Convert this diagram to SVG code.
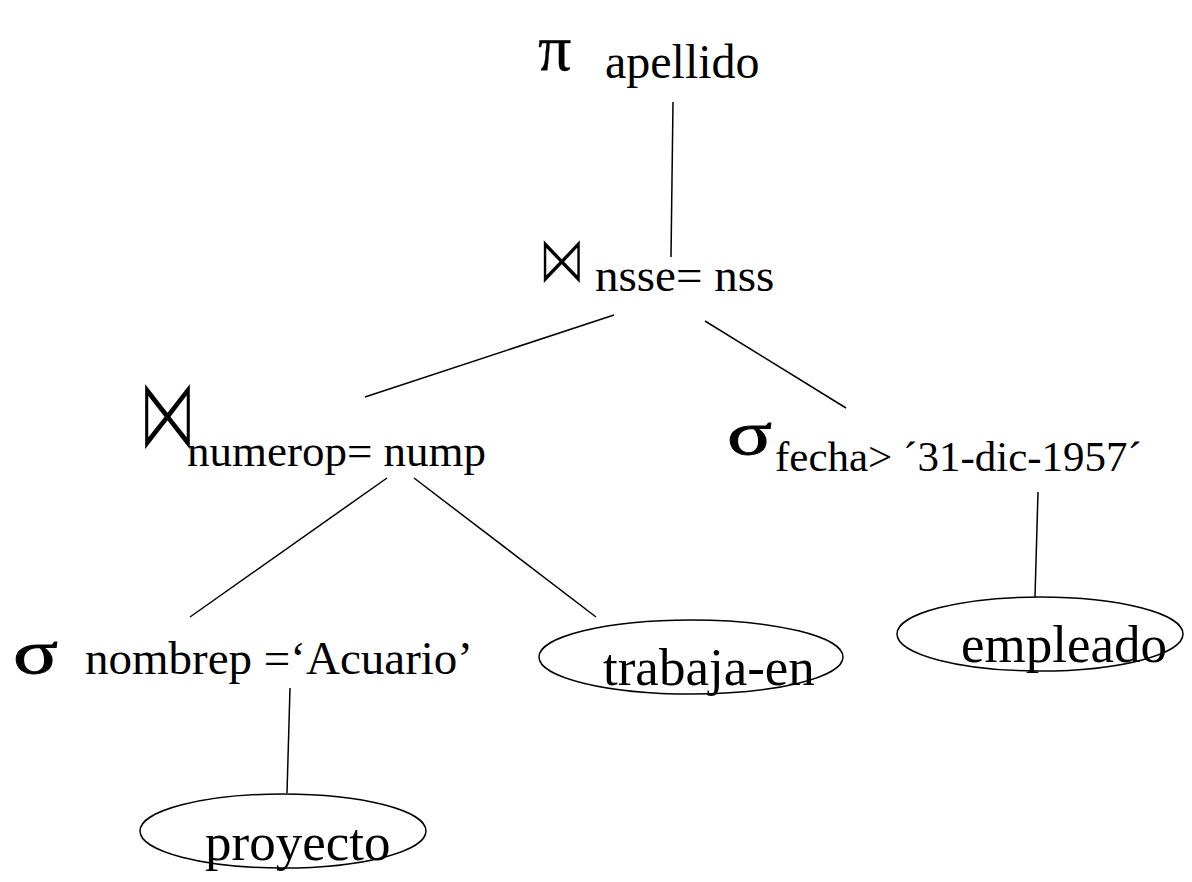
<svg xmlns="http://www.w3.org/2000/svg" width="1192" height="882" viewBox="0 0 1192 882">
  <style>
    text { fill: #000; }
    .edge { stroke: #000; stroke-width: 1.5; fill: none; }
    .rel { stroke: #000; stroke-width: 1.5; fill: #fff; }
    .op { font-family: "Liberation Serif", "DejaVu Serif", serif; stroke: #000; stroke-width: 0.8; }
    .pi { font-family: "Liberation Serif", "DejaVu Serif", serif; stroke: #000; stroke-width: 0.3; }
    .bow { font-family: "DejaVu Sans", sans-serif; stroke: #fff; stroke-width: 1.3; }
  </style>

  <!-- tree edges -->
  <g id="connectors">
    <line class="edge" x1="673" y1="102" x2="671" y2="257"/>
    <line class="edge" x1="614" y1="315" x2="365" y2="397"/>
    <line class="edge" x1="705" y1="321" x2="846" y2="408"/>
    <line class="edge" x1="387" y1="478" x2="190" y2="617"/>
    <line class="edge" x1="414" y1="478" x2="596" y2="617"/>
    <line class="edge" x1="1038" y1="492" x2="1035" y2="597"/>
    <line class="edge" x1="290" y1="688" x2="287" y2="793"/>
  </g>

  <g font-family="'Liberation Serif', 'DejaVu Serif', serif">
    <!-- projection -->
    <g id="proj">
      <text class="pi" x="538" y="70" font-size="66">π</text>
      <text x="605" y="78" font-size="48">apellido</text>
    </g>

    <!-- join on nsse = nss -->
    <g id="join-nss">
      <text class="bow" x="0" y="0" font-size="44" transform="translate(538 283) scale(1.08 1.55)">⋈</text>
      <text x="595" y="291" font-size="47">nsse= nss</text>
    </g>

    <!-- join on numerop = nump -->
    <g id="join-nump">
      <text class="bow" x="0" y="0" font-size="44" transform="translate(138 449) scale(1.34 2.35)">⋈</text>
      <text x="187" y="466" font-size="45">numerop= nump</text>
    </g>

    <!-- selection on fecha -->
    <g id="sel-fecha">
      <text class="op" x="0" y="0" font-size="62" transform="translate(727 454) scale(1.35 1)">σ</text>
      <text x="775" y="471" font-size="43">fecha&gt; ´31-dic-1957´</text>
    </g>

    <!-- selection on nombrep -->
    <g id="sel-nombrep">
      <text class="op" x="0" y="0" font-size="62" transform="translate(13 673) scale(1.35 1)">σ</text>
      <text x="85" y="674" font-size="47">nombrep =‘Acuario’</text>
    </g>

    <!-- base relations -->
    <g id="trabaja-en">
      <ellipse class="rel" cx="691" cy="657" rx="152" ry="37"/>
      <text x="603" y="685" font-size="53">trabaja-en</text>
    </g>
    <g id="empleado">
      <ellipse class="rel" cx="1040" cy="634" rx="143" ry="37"/>
      <text x="961" y="662" font-size="53">empleado</text>
    </g>
    <g id="proyecto">
      <ellipse class="rel" cx="283" cy="831" rx="143" ry="37"/>
      <text x="205" y="860" font-size="53">proyecto</text>
    </g>
  </g>
</svg>
